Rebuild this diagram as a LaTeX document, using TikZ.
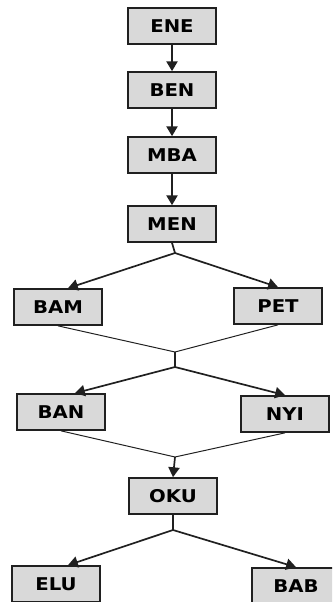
\documentclass[tikz,border=0pt]{standalone}
\usepackage{fontspec}
\setmainfont{DejaVu Sans}
\newfontfamily\boxfont[FakeStretch=1.12]{DejaVu Sans Bold}
\usepackage{xcolor}
\usepackage{tikz}
\usetikzlibrary{arrows.meta}
\definecolor{boxFill}{HTML}{D9D9D9}
\definecolor{edgeDark}{HTML}{202020}

\begin{document}
\begin{tikzpicture}[x=0.025cm, y=-0.025cm,
stage/.style={draw=edgeDark, line width=1.2pt, fill=boxFill, minimum width=2.2cm, minimum height=0.9cm, inner sep=0pt, font=\boxfont\fontsize{12.5}{14}\selectfont},
flow/.style={draw=edgeDark, line width=1.2pt, -{Triangle[width=8pt, length=7pt]}},
mergeline/.style={draw=edgeDark, line width=0.7pt}]
\useasboundingbox (0,0) rectangle (332,602);
\clip (0,0) rectangle (332,602);
\fill[white] (0,0) rectangle (332,602);
\foreach \n/\lbl/\x/\y in {ene/ENE/172/26,ben/BEN/172/90,mba/MBA/172/155,men/MEN/172/224,bam/BAM/58/307,pet/PET/278/306,ban/BAN/61/412,nyi/NYI/285/414,oku/OKU/173/496,elu/ELU/56/584,bab/BAB/296/586}
{\node[stage] (\n) at (\x,\y) {\lbl};}
\coordinate (j1) at (175,253);
\coordinate (j2) at (175,352);
\coordinate (j3) at (175,367);
\coordinate (j4) at (175,457);
\coordinate (j5) at (173,530);
\draw[flow] (ene) -- (ben);
\draw[flow] (ben) -- (mba);
\draw[flow] (mba) -- (men);
\draw[mergeline, line width=1.2pt] (men.south) -- (j1);
\draw[flow] (j1) -- ([xshift=0.25cm]bam.north);
\draw[flow] (j1) -- (pet.north);
\draw[mergeline] (bam.south) -- (j2) -- (pet.south);
\draw[mergeline, line width=1.2pt] (j2) -- (j3);
\draw[flow] (j3) -- ([xshift=0.35cm]ban.north);
\draw[flow] (j3) -- (nyi.north);
\draw[mergeline] (ban.south) -- (j4) -- (nyi.south);
\draw[flow] (j4) -- (oku.north);
\draw[mergeline, line width=1.2pt] (oku.south) -- (j5);
\draw[flow] (j5) -- ([xshift=0.3cm]elu.north);
\draw[flow] (j5) -- (bab.north);
\end{tikzpicture}
\end{document}
